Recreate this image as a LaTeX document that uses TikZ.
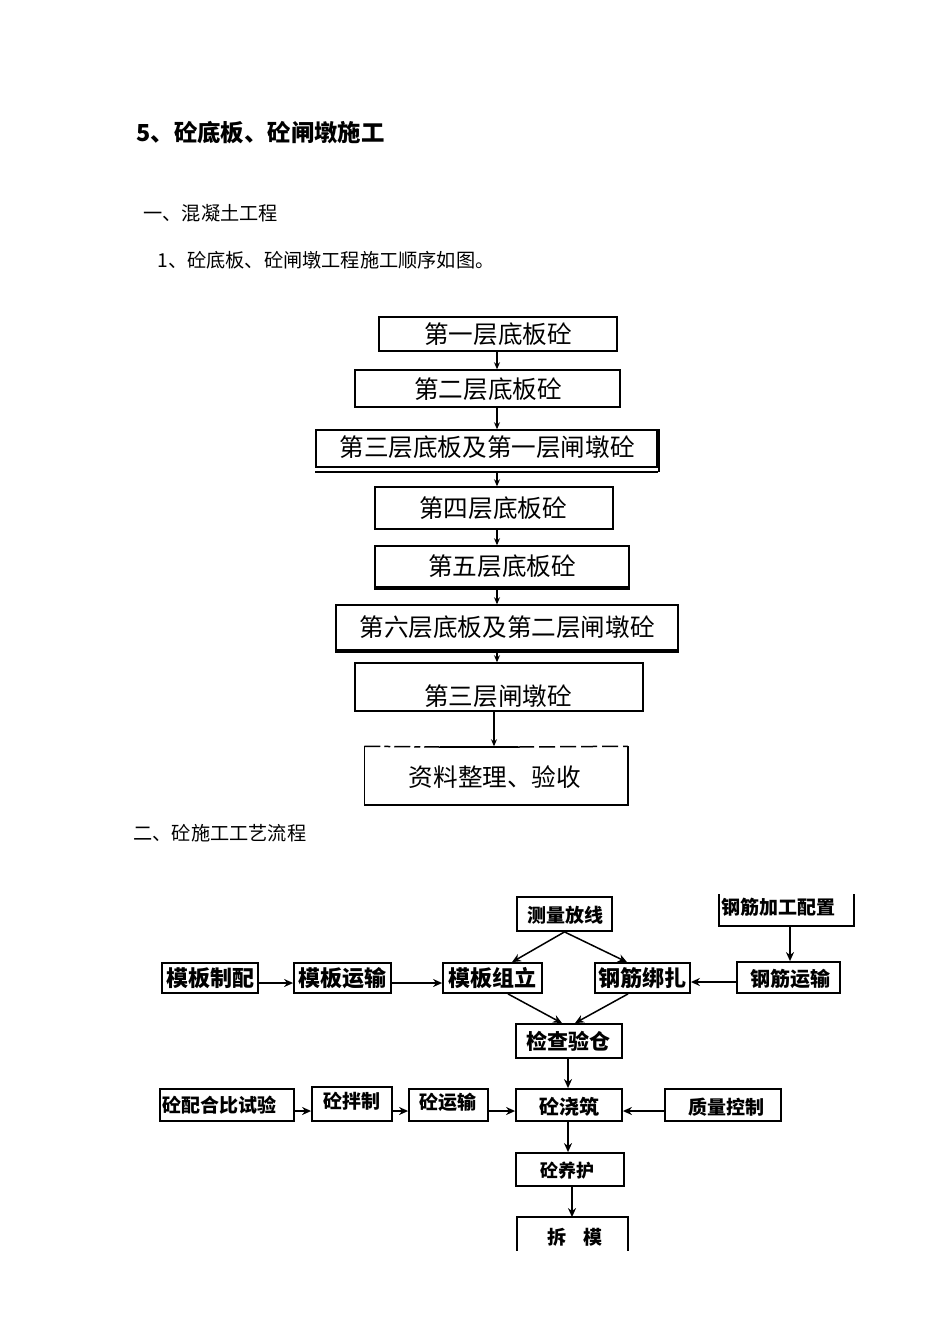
\documentclass[tikz,border=0pt]{standalone}
\usepackage{fontspec}
\setmainfont{Noto Sans CJK SC}
\usetikzlibrary{arrows.meta,fit}
\begin{document}
\begin{tikzpicture}[x=0.5pt,y=-0.5pt,
 boxa/.style={draw, line width=0.75pt, inner sep=0pt},
 boxb/.style={draw, line width=0.9pt, inner sep=0pt},
 ta/.style={inner sep=0pt, font=\fontsize{12.3pt}{13pt}\selectfont},
 tb/.style={inner sep=0pt, font=\bfseries\fontsize{9.5pt}{10pt}\selectfont},
 arra/.style={line width=0.55pt, -{Stealth[length=3.5pt,width=3pt]}},
 arrb/.style={line width=0.75pt, -{Stealth[length=4.5pt,width=4pt]}},
 txt/.style={anchor=west, inner sep=0pt, font=\fontsize{9.6pt}{10pt}\selectfont}]
\useasboundingbox (0,0) rectangle (950,1344);
\fill[white] (0,0) rectangle (950,1344);

% headings
\node[txt, font=\bfseries\fontsize{11.7pt}{12pt}\selectfont] (h1) at (136,133) {5、砼底板、砼闸墩施工};
\node[txt] (h2) at (143,213) {一、混凝土工程};
\node[txt] (h3) at (157,260) {1、砼底板、砼闸墩工程施工顺序如图。};
\node[txt] (h4) at (133,833) {二、砼施工工艺流程};

% flow 1
\node[boxa, fit={(379,317)(617,351)}] (b1) {};
\node[boxa, fit={(355,370)(620,407)}] (b2) {};
\node[boxa, fit={(316,430)(657,467)}] (b3) {};
\node[boxa, fit={(375,487)(613,529)}] (b4) {};
\node[boxa, fit={(375,546)(629,587)}] (b5) {};
\node[boxa, fit={(336,605)(678,650)}] (b6) {};
\node[boxa, fit={(355,663)(643,711)}] (b7) {};
\node[boxa, draw=none, fit={(365,747)(627,804)}] (b8) {};
\node[ta] (b1t) at (498,334) {第一层底板砼};
\node[ta] (b2t) at (488,389) {第二层底板砼};
\node[ta] (b3t) at (487,447) {第三层底板及第一层闸墩砼};
\node[ta] (b4t) at (493,508) {第四层底板砼};
\node[ta] (b5t) at (502,566) {第五层底板砼};
\node[ta] (b6t) at (507,627) {第六层底板及第二层闸墩砼};
\node[ta] (b7t) at (498,696) {第三层闸墩砼};
\node[ta] (b8t) at (495,777) {资料整理、验收};

\draw[line width=0.75pt] (b8.north west) -- (b8.south west) -- (b8.south east) -- (b8.north east);
\coordinate (d1) at (440,747);
\coordinate (d2) at (518,747);
\draw[line width=0.75pt, dash pattern=on 8pt off 2pt on 3pt off 2pt] (b8.north west) -- (d1);
\draw[line width=0.75pt] (d1) -- (d2);
\draw[line width=0.75pt, dash pattern=on 8pt off 2.5pt] (d2) -- (b8.north east);
% shadows
\draw[line width=0.75pt] ([yshift=-2pt]b3.south west) -- ([yshift=-2pt]b3.south east);
\draw[line width=0.6pt] ([xshift=0.6pt]b3.north east) -- ([xshift=0.6pt,yshift=-2pt]b3.south east);
\draw[line width=0.8pt] ([yshift=-0.6pt]b5.south west) -- ([yshift=-0.6pt]b5.south east);
\draw[line width=0.8pt] ([yshift=-0.6pt]b6.south west) -- ([yshift=-0.6pt]b6.south east);

\coordinate (ax) at (497,0);
\coordinate (ay) at (494,0);
\draw[arra] (b1.south -| ax) -- (b2.north -| ax);
\draw[arra] (b2.south -| ax) -- (b3.north -| ax);
\draw[arra] ([yshift=-2pt]b3.south -| ax) -- (b4.north -| ax);
\draw[arra] (b4.south -| ax) -- (b5.north -| ax);
\draw[arra] ([yshift=-0.6pt]b5.south -| ax) -- (b6.north -| ax);
\draw[arra] ([yshift=-0.6pt]b6.south -| ax) -- (b7.north -| ax);
\draw[arra] (b7.south -| ay) -- (b8.north -| ay);

% flow 2
\node[boxb, fit={(517,897)(612,931)}] (ce) {};
\node[boxb, draw=none, fit={(720,895)(853,925)}] (gj) {};
\draw[line width=0.9pt] (gj.north west) -- (gj.south west) -- (gj.south east) -- (gj.north east);
\node[boxb, fit={(162,963)(258,993)}] (m1) {};
\node[boxb, fit={(294,963)(391,993)}] (m2) {};
\node[boxb, fit={(443,963)(542,993)}] (m3) {};
\node[boxb, fit={(595,963)(690,993)}] (g1) {};
\node[boxb, fit={(737,962)(840,993)}] (g2) {};
\node[boxb, fit={(516,1024)(622,1058)}] (jc) {};
\node[boxb, fit={(160,1089)(294,1121)}] (t1) {};
\node[boxb, fit={(312,1087)(392,1121)}] (t2) {};
\node[boxb, fit={(409,1089)(488,1121)}] (t3) {};
\node[boxb, fit={(516,1089)(622,1121)}] (t4) {};
\node[boxb, fit={(665,1089)(781,1121)}] (qc) {};
\node[boxb, fit={(516,1153)(624,1186)}] (t5) {};
\node[boxb, draw=none, fit={(518,1218)(627,1250)}] (t6) {};
\draw[line width=0.9pt] (t6.south west) -- (t6.north west) -- (t6.north east) -- (t6.south east);

\node[tb] (cet) at (565,915) {测量放线};
\node[tb] (gjt) at (778,907) {钢筋加工配置};
\node[tb, font=\bfseries\fontsize{11pt}{12pt}\selectfont] (m1t) at (210,978) {模板制配};
\node[tb, font=\bfseries\fontsize{11pt}{12pt}\selectfont] (m2t) at (342,978) {模板运输};
\node[tb, font=\bfseries\fontsize{11pt}{12pt}\selectfont] (m3t) at (492,978) {模板组立};
\node[tb, font=\bfseries\fontsize{11pt}{12pt}\selectfont] (g1t) at (642,978) {钢筋绑扎};
\node[tb, font=\bfseries\fontsize{10pt}{11pt}\selectfont] (g2t) at (790,979) {钢筋运输};
\node[tb, font=\bfseries\fontsize{10.5pt}{11pt}\selectfont] (jct) at (568,1041) {检查验仓};
\node[tb] (t1t) at (219,1105) {砼配合比试验};
\node[tb] (t2t) at (352,1101) {砼拌制};
\node[tb] (t3t) at (448,1102) {砼运输};
\node[tb, font=\bfseries\fontsize{10pt}{11pt}\selectfont] (t4t) at (569,1107) {砼浇筑};
\node[tb] (qct) at (726,1107) {质量控制};
\node[tb, font=\bfseries\fontsize{9pt}{10pt}\selectfont] (t5t) at (567,1171) {砼养护};
\node[tb] (t6t) at (575,1237) {拆\hspace{0.9em}模};

\coordinate (r1) at (0,983);
\coordinate (r2) at (0,982);
\coordinate (r3) at (0,1111);
\coordinate (c790) at (790,0);
\coordinate (c512) at (512,0);
\coordinate (c627) at (627,0);
\coordinate (c508) at (508,0);
\coordinate (c562) at (562,0);
\coordinate (c628) at (628,0);
\coordinate (c575) at (575,0);
\coordinate (c568) at (568,0);
\coordinate (c572) at (572,0);

\draw[arrb] (m1.east |- r1) -- (m2.west |- r1);
\draw[arrb] (m2.east |- r1) -- (m3.west |- r1);
\draw[arrb] (g2.west |- r2) -- (g1.east |- r2);
\draw[arrb] (gj.south -| c790) -- (g2.north -| c790);
\draw[arrb] (ce.south) -- (m3.north -| c512);
\draw[arrb] (ce.south) -- (g1.north -| c627);
\draw[arrb] (m3.south -| c508) -- (jc.north -| c562);
\draw[arrb] (g1.south -| c628) -- (jc.north -| c575);
\draw[arrb] (jc.south -| c568) -- (t4.north -| c568);
\draw[arrb] (t1.east |- r3) -- (t2.west |- r3);
\draw[arrb] (t2.east |- r3) -- (t3.west |- r3);
\draw[arrb] (t3.east |- r3) -- (t4.west |- r3);
\draw[arrb] (qc.west |- r3) -- (t4.east |- r3);
\draw[arrb] (t4.south -| c568) -- (t5.north -| c568);
\draw[arrb] (t5.south -| c572) -- (t6.north -| c572);
\end{tikzpicture}
\end{document}
